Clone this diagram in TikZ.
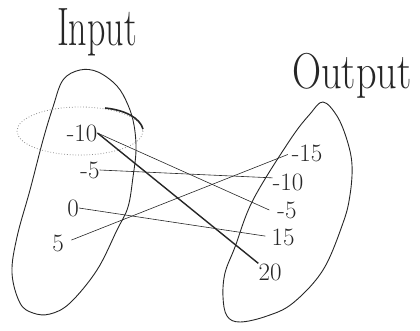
\documentclass[tikz,border=0pt]{standalone}
\usepackage{graphicx}
\definecolor{pencil}{HTML}{262626}
\definecolor{softpencil}{HTML}{8C8C8C}
\tikzset{
  setlabel/.style={font=\fontsize{36}{36}\selectfont, inner sep=0pt, text=pencil},
  num/.style={font=\fontsize{25}{25}\selectfont, inner sep=0pt, text=pencil},
  oval/.style={draw=pencil, line width=0.9pt},
  link/.style={draw=pencil, line width=0.6pt},
  boldlink/.style={draw=pencil, line width=1.4pt},
  loopmark/.style={draw=softpencil, dotted, line width=0.8pt}
}

\begin{document}
\begin{tikzpicture}[x=1pt, y=-1pt]
\useasboundingbox (0,0) rectangle (420,330);

\node[setlabel] (inlabel) at (97,32) {\scalebox{1}[1.5]{Input}};
\node[setlabel] (outlabel) at (352,76) {\scalebox{1.12}[1.4]{Output}};

% the two sets
\draw[oval] plot[smooth cycle, tension=0.6] coordinates {(98,72) (117,86) (128,105) (134,125) (136,150) (133,177) (128,207) (117,230) (97,270) (70,303) (50,314) (33,313) (20,303) (12,273) (17,237) (30,190) (43,140) (53,107) (63,80) (80,70)};
\draw[oval] plot[smooth cycle, tension=0.6] coordinates {(323,102) (337,116) (347,140) (352,165) (350,195) (343,223) (323,270) (293,303) (267,316) (240,322) (227,316) (223,297) (225,273) (235,247) (253,200) (290,140) (310,114)};

\draw[loopmark] (80,131) ellipse [x radius=63, y radius=24];
\draw[pencil, line width=1.6pt] (105,108) .. controls (125,110) and (140,118) .. (143,129);

\foreach \nm/\x/\y/\lab in {in10/82/133/-10, in5m/90/170/-5, in0/73/208/0, in5/58/243/5} {
  \node[num] (\nm) at (\x,\y) {\lab};
}
\foreach \nm/\x/\y/\lab in {out15m/307/153/-15, out10m/288/182/-10, out5m/287/210/-5, out15/283/237/15, out20/270/272/20} {
  \node[num] (\nm) at (\x,\y) {\lab};
}

\draw[boldlink] (in10.east) -- (out20.north west);
\draw[link] (in10.east) -- ([xshift=-8pt]out5m.west);
\draw[link] (in5m.east) -- (out10m.165);
\draw[link, shorten <=8pt, shorten >=4pt] (in5.east) -- (out15m.west);
\draw[link, shorten >=6pt] (in0.east) -- (out15.west);

\end{tikzpicture}
\end{document}
